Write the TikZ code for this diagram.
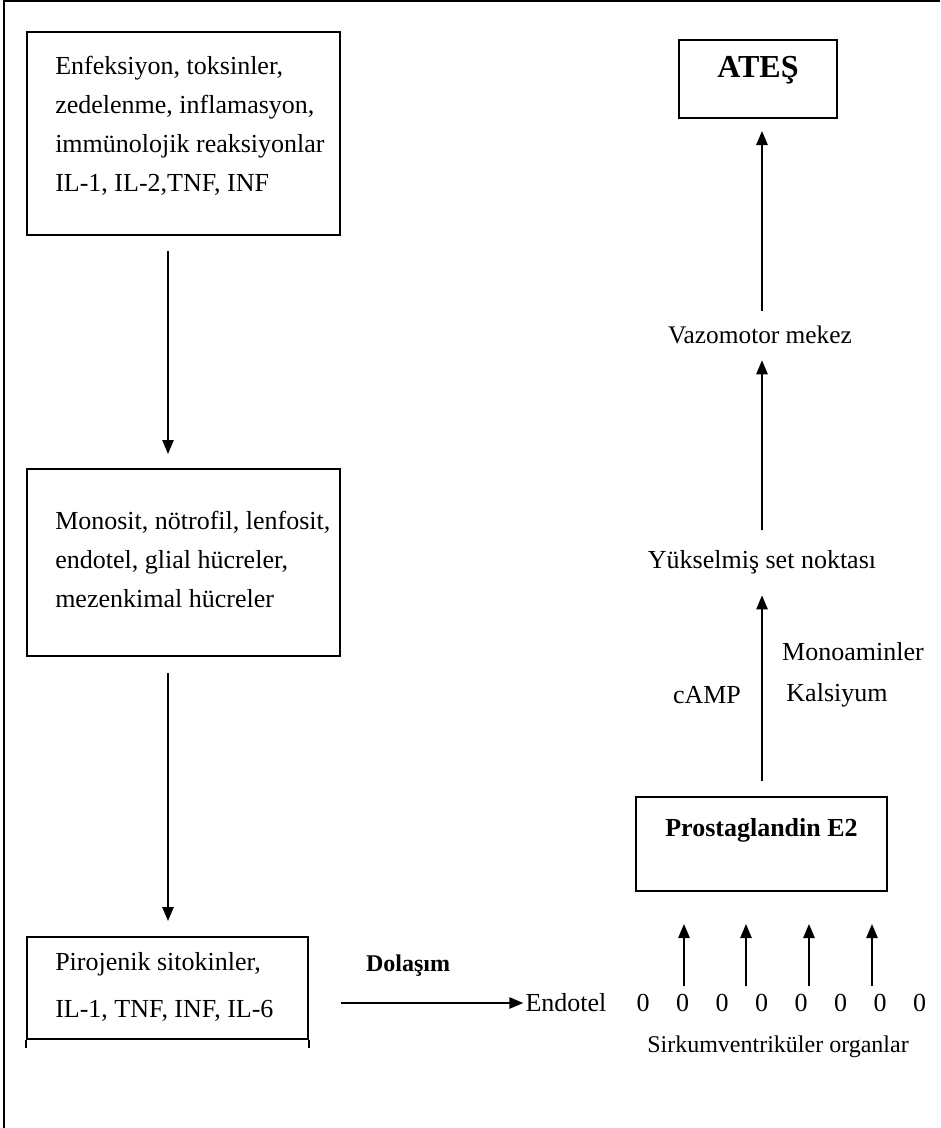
\documentclass[tikz,border=0pt]{standalone}
\usepackage{fontspec}
\setmainfont{Liberation Serif}
\usetikzlibrary{arrows.meta}
\newcommand{\txtfont}{\fontsize{19.5}{29.25}\selectfont}
\tikzset{
    box/.style 2 args={draw, line width=1.5pt, minimum width=#1*0.75pt, minimum height=#2*0.75pt, inner sep=0pt},
    txt/.style={font=\txtfont, inner sep=0pt, align=left},
    bold/.style={font=\txtfont\bfseries, inner sep=0pt},
    arr/.style={-{Triangle[length=10.5pt,width=8.5pt]}, line width=1.3pt},
}

\begin{document}
\begin{tikzpicture}[x=0.75pt, y=-0.75pt]
    \useasboundingbox (0,0) rectangle (940,1128);
    \draw[line width=1.5pt] (4,1128) -- (4,1) -- (940,1);
    \coordinate (lx) at (168,0);
    \coordinate (rx) at (762,0);

    % left column
    \node[box={313}{203}] (inf) at (183.5,133.5) {};
    \node[txt, anchor=west] (inftxt) at (55,125.5) {Enfeksiyon, toksinler,\\zedelenme, inflamasyon,\\immünolojik reaksiyonlar\\IL-1, IL-2,TNF, INF};
    \node[box={313}{187}] (cell) at (183.5,562.5) {};
    \node[txt, anchor=west] (celltxt) at (55,559) {Monosit, nötrofil, lenfosit,\\endotel, glial hücreler,\\mezenkimal hücreler};
    \node[box={281}{102}] (piro) at (167.5,988) {};
    \node[txt, anchor=west, font=\fontsize{19.5}{35.25}\selectfont] (pirotxt) at (55,986.5) {Pirojenik sitokinler,\\IL-1, TNF, INF, IL-6};
    \draw[line width=1.5pt] (piro.south west) -- ++(0,8) (piro.south east) -- ++(0,8);

    \draw[arr, shorten <=11.25pt, shorten >=10.5pt] (inf.south -| lx) -- (cell.north -| lx);
    \draw[arr, shorten <=12pt, shorten >=11.25pt] (cell.south -| lx) -- (piro.north -| lx);

    % circulation
    \node[txt] (endo) at (566,1003) {Endotel};
    \node[bold, font=\fontsize{18}{24}\selectfont\bfseries] (dol) at (408,966) {Dolaşım};
    \draw[arr, shorten <=24pt, shorten >=1.5pt] (piro.east |- endo.west) -- (endo.west);
    \foreach \i in {0,...,7}
        \node[txt] (z\i) at (643+39.5*\i,1003) {0};
    \node[txt, font=\fontsize{18}{24}\selectfont] (cvo) at (778,1047) {Sirkumventriküler organlar};

    % right column
    \node[box={251}{94}] (pge) at (761.5,844) {};
    \node[bold] (pgetxt) at (761.5,830) {Prostaglandin E2};
    \foreach \x in {684,746,809,872}
        \draw[arr] ([xshift={(\x-761.5)*0.75pt}, yshift=-70.5pt]pge.south) -- ([xshift={(\x-761.5)*0.75pt}, yshift=-24pt]pge.south);
    \node[txt] (yuk) at (762,562) {Yükselmiş set noktası};
    \node[txt] (camp) at (707,695) {cAMP};
    \node[txt] (kal) at (837,695) {Kalsiyum};
    \node[txt] (mono) at (853,652) {Monoaminler};
    \node[txt, font=\fontsize{19}{24}\selectfont] (vaz) at (760,335) {Vazomotor mekez};
    \node[box={158}{78}] (ates) at (758,79) {};
    \node[font=\fontsize{24}{29}\selectfont\bfseries, inner sep=0pt] (atestxt) at (758,70) {ATEŞ};

    \draw[arr, shorten <=11.25pt, shorten >=16pt] (pge.north -| rx) -- (yuk.south -| rx);
    \draw[arr, shorten <=15pt, shorten >=12pt] (yuk.north -| rx) -- (vaz.south -| rx);
    \draw[arr, shorten <=11pt, shorten >=9pt] (vaz.north -| rx) -- (ates.south -| rx);
\end{tikzpicture}
\end{document}
